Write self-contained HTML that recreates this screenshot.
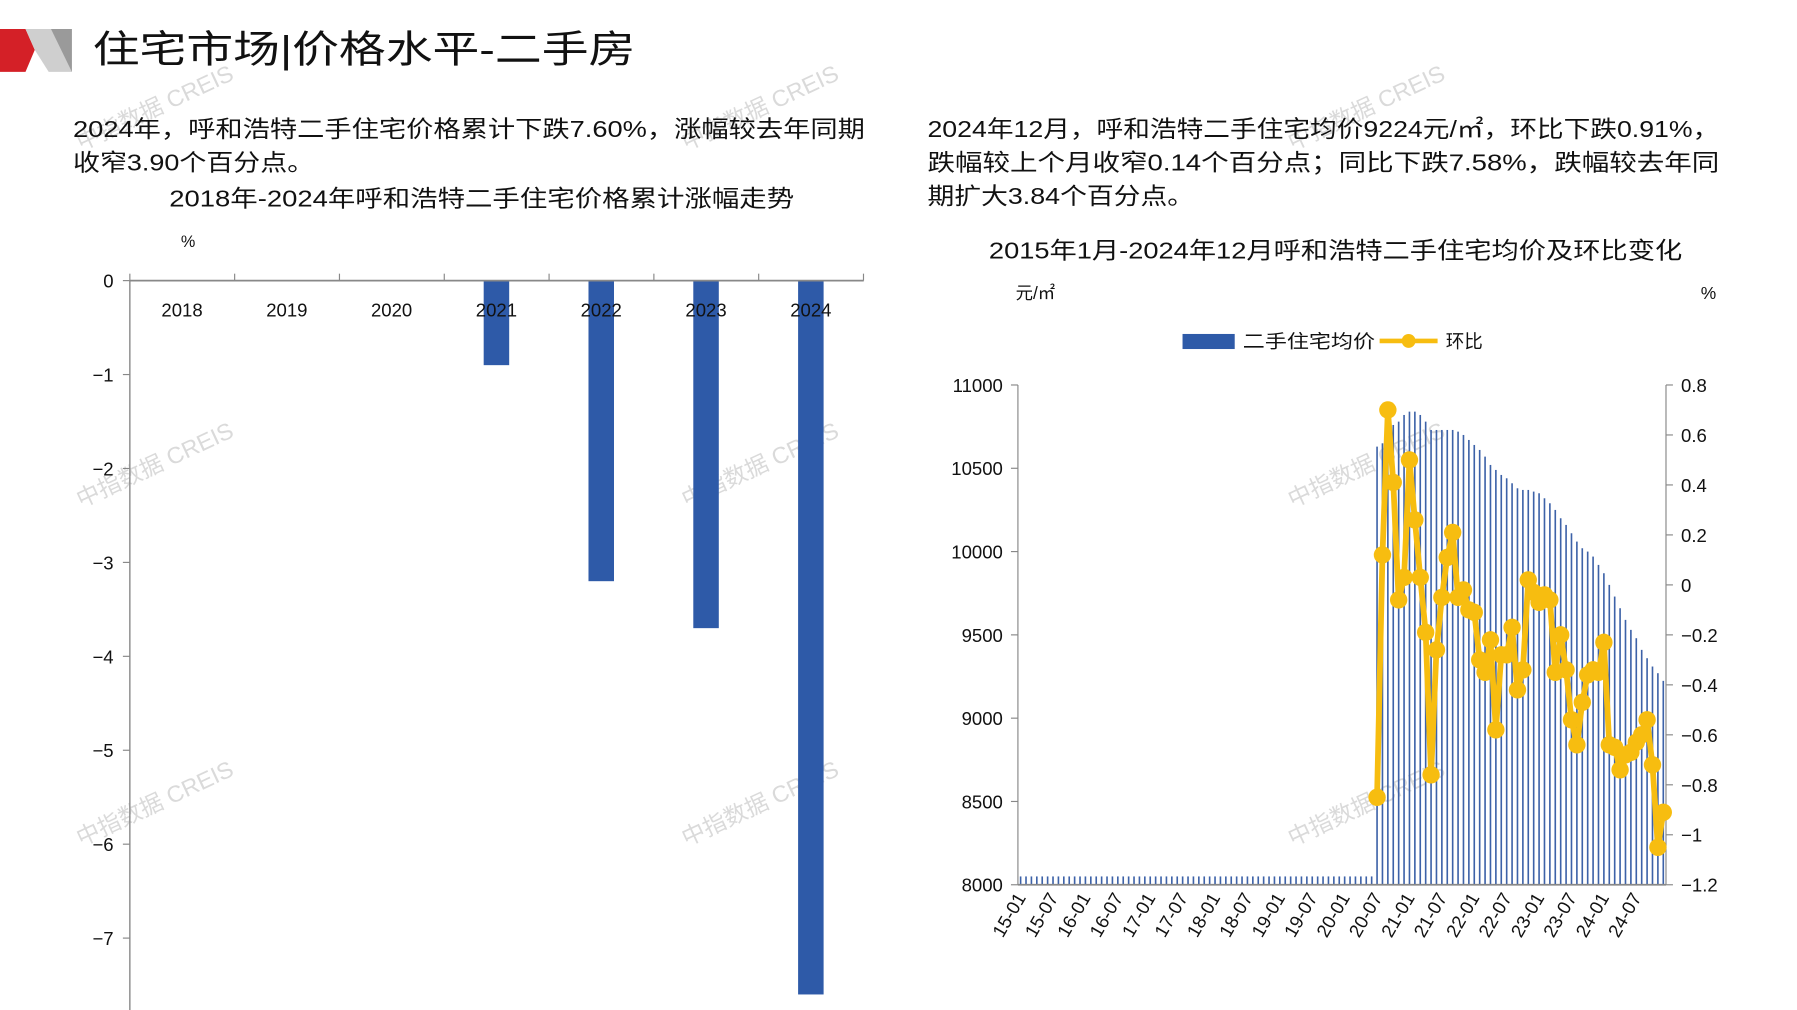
<!DOCTYPE html>
<html><head><meta charset="utf-8">
<style>
html,body{margin:0;padding:0;background:#fff;}
svg{display:block;}
text{font-family:"Liberation Sans","Noto Sans CJK SC",sans-serif;fill:#111;}
.wm text{fill:#dadada;font-size:20px;}
</style></head>
<body>
<svg id="s" width="1797" height="1010" viewBox="0 0 1550 871" preserveAspectRatio="none" xmlns="http://www.w3.org/2000/svg">
<rect width="1550" height="871" fill="#fff"/>
<polygon points="0,25 22,25 30,43 22,62 0,62" fill="#d42027"/>
<polygon points="22,25 62,25 62,62 42,62 30,43" fill="#cfcfcf"/>
<polygon points="44,25 62,25 62,62" fill="#9a9a9a"/>
<text x="80" y="54" font-size="33" textLength="468" lengthAdjust="spacingAndGlyphs">住宅市场|价格水平-二手房</text>

<g class="wm">
<text transform="translate(70,130) rotate(-25)">中指数据 CREIS</text>
<text transform="translate(592,130) rotate(-25)">中指数据 CREIS</text>
<text transform="translate(1115,130) rotate(-25)">中指数据 CREIS</text>
<text transform="translate(70,438) rotate(-25)">中指数据 CREIS</text>
<text transform="translate(592,438) rotate(-25)">中指数据 CREIS</text>
<text transform="translate(1115,438) rotate(-25)">中指数据 CREIS</text>
<text transform="translate(70,730) rotate(-25)">中指数据 CREIS</text>
<text transform="translate(592,730) rotate(-25)">中指数据 CREIS</text>
<text transform="translate(1115,730) rotate(-25)">中指数据 CREIS</text>
</g>

<g font-size="20">
<text x="63" y="118" textLength="683" lengthAdjust="spacingAndGlyphs">2024年，呼和浩特二手住宅价格累计下跌7.60%，涨幅较去年同期</text>
<text x="63" y="147" textLength="208" lengthAdjust="spacingAndGlyphs">收窄3.90个百分点。</text>
<text x="146" y="178" textLength="539" lengthAdjust="spacingAndGlyphs">2018年-2024年呼和浩特二手住宅价格累计涨幅走势</text>
<text x="800" y="118" textLength="683" lengthAdjust="spacingAndGlyphs">2024年12月，呼和浩特二手住宅均价9224元/㎡，环比下跌0.91%，</text>
<text x="800" y="147" textLength="683" lengthAdjust="spacingAndGlyphs">跌幅较上个月收窄0.14个百分点；同比下跌7.58%，跌幅较去年同</text>
<text x="800" y="176" textLength="230" lengthAdjust="spacingAndGlyphs">期扩大3.84个百分点。</text>
<text x="853" y="223" textLength="598" lengthAdjust="spacingAndGlyphs">2015年1月-2024年12月呼和浩特二手住宅均价及环比变化</text>
</g>
<text x="156" y="213" font-size="14">%</text>
<text x="876" y="258" font-size="15">元/㎡</text>
<text x="1467" y="258" font-size="15">%</text>

<rect x="1020" y="288" width="45" height="13" fill="#2e5aa8"/>
<text x="1072" y="300" font-size="16" textLength="114" lengthAdjust="spacingAndGlyphs">二手住宅均价</text>
<line x1="1190" y1="294" x2="1240" y2="294" stroke="#f7bd10" stroke-width="4"/>
<circle cx="1215" cy="294" r="6" fill="#f7bd10"/>
<text x="1247" y="300" font-size="16">环比</text>

<g id="left"></g>
<g id="right"></g>
</svg>
<script>
var NS="http://www.w3.org/2000/svg";
function el(p,t,a,txt){var e=document.createElementNS(NS,t);for(var k in a)e.setAttribute(k,a[k]);if(txt!=null)e.textContent=txt;p.appendChild(e);return e;}
(function(){
var L=document.getElementById("left");
var y0=242,pu=81;
el(L,"line",{x1:112,y1:y0,x2:112,y2:880,stroke:"#888","stroke-width":1.2});
for(var v=0;v>=-7;v--){var y=y0-v*pu;el(L,"line",{x1:106,y1:y,x2:112,y2:y,stroke:"#888"});el(L,"text",{x:98,y:y+6,"font-size":16,"text-anchor":"end"},v==0?"0":"−"+(-v));}
var vals=[0,0,0,-0.9,-3.2,-3.7,-7.6];
for(var i=0;i<7;i++){var cx=157+i*90.4;if(vals[i]<0)el(L,"rect",{x:cx-11,y:y0,width:22,height:-vals[i]*pu,fill:"#2e5aa8"});
el(L,"text",{x:cx,y:273,"font-size":16,"text-anchor":"middle"},String(2018+i));}
el(L,"line",{x1:112,y1:y0,x2:745,y2:y0,stroke:"#888","stroke-width":1.5});
for(var i=0;i<8;i++){var x=112+i*90.4;el(L,"line",{x1:x,y1:y0,x2:x,y2:y0-6,stroke:"#888"});}

var R=document.getElementById("right");
var ax=878,bx=1437,tp=332,bt=763;
function yp(p){return bt-(p-8000)/3000*(bt-tp);}
function ym(m){return tp+(0.8-m)/2*(bt-tp);}
var step=(bx-ax)/120;
var mom=[-0.85,0.12,0.70,0.41,-0.06,0.03,0.50,0.26,0.03,-0.19,-0.76,-0.26,-0.05,0.11,0.21,-0.05,-0.02,-0.10,-0.11,-0.30,-0.35,-0.22,-0.58,-0.28,-0.28,-0.17,-0.42,-0.34,0.02,-0.03,-0.07,-0.04,-0.06,-0.35,-0.20,-0.34,-0.54,-0.64,-0.47,-0.36,-0.34,-0.35,-0.23,-0.64,-0.65,-0.74,-0.68,-0.67,-0.63,-0.60,-0.54,-0.72,-1.05,-0.91];
var price=[10630,10650,10760,10760,10780,10820,10840,10840,10820,10780,10730,10730,10730,10730,10730,10720,10700,10670,10640,10610,10570,10520,10490,10460,10440,10410,10380,10370,10370,10360,10350,10320,10290,10250,10200,10160,10110,10060,10020,10000,9970,9920,9870,9800,9730,9660,9590,9530,9480,9410,9360,9310,9270,9224];
var n=mom.length,start=120-n;
for(var i=0;i<120;i++){var cx=ax+(i+0.5)*step;var p=i<start?8050:price[i-start];
el(R,"rect",{x:cx-0.7,y:yp(p),width:1.4,height:bt-yp(p),fill:"#3d62a8"});}
el(R,"line",{x1:ax,y1:tp,x2:ax,y2:bt,stroke:"#888"});
el(R,"line",{x1:bx,y1:tp,x2:bx,y2:bt,stroke:"#888"});
el(R,"line",{x1:ax,y1:bt,x2:bx,y2:bt,stroke:"#888","stroke-width":1.5});
for(var k=0;k<=6;k++){var p=8000+k*500,y=yp(p);el(R,"line",{x1:ax-6,y1:y,x2:ax,y2:y,stroke:"#888"});el(R,"text",{x:865,y:y+6,"font-size":16,"text-anchor":"end"},String(p));}
var ml=["0.8","0.6","0.4","0.2","0","−0.2","−0.4","−0.6","−0.8","−1","−1.2"];
for(var k=0;k<=10;k++){var y=tp+k*(bt-tp)/10;el(R,"line",{x1:bx,y1:y,x2:bx+6,y2:y,stroke:"#888"});el(R,"text",{x:1450,y:y+6,"font-size":16},ml[k]);}
var pts="";for(var i=0;i<n;i++){pts+=(ax+(start+i+0.5)*step)+","+ym(mom[i])+" ";}
el(R,"polyline",{points:pts,fill:"none",stroke:"#f7bd10","stroke-width":5,"stroke-linejoin":"round"});
for(var i=0;i<n;i++)el(R,"circle",{cx:ax+(start+i+0.5)*step,cy:ym(mom[i]),r:7.5,fill:"#f7bd10"});
for(var k=0;k<20;k++){var i=k*6,cx=ax+(i+0.5)*step;var yy=15+Math.floor(k/2);var lab=yy+"-"+(k%2?"07":"01");
el(R,"text",{x:0,y:0,"font-size":16,"text-anchor":"end",transform:"translate("+(cx+5)+",774) rotate(-60)"},lab);}
})();
</script>
</body></html>
